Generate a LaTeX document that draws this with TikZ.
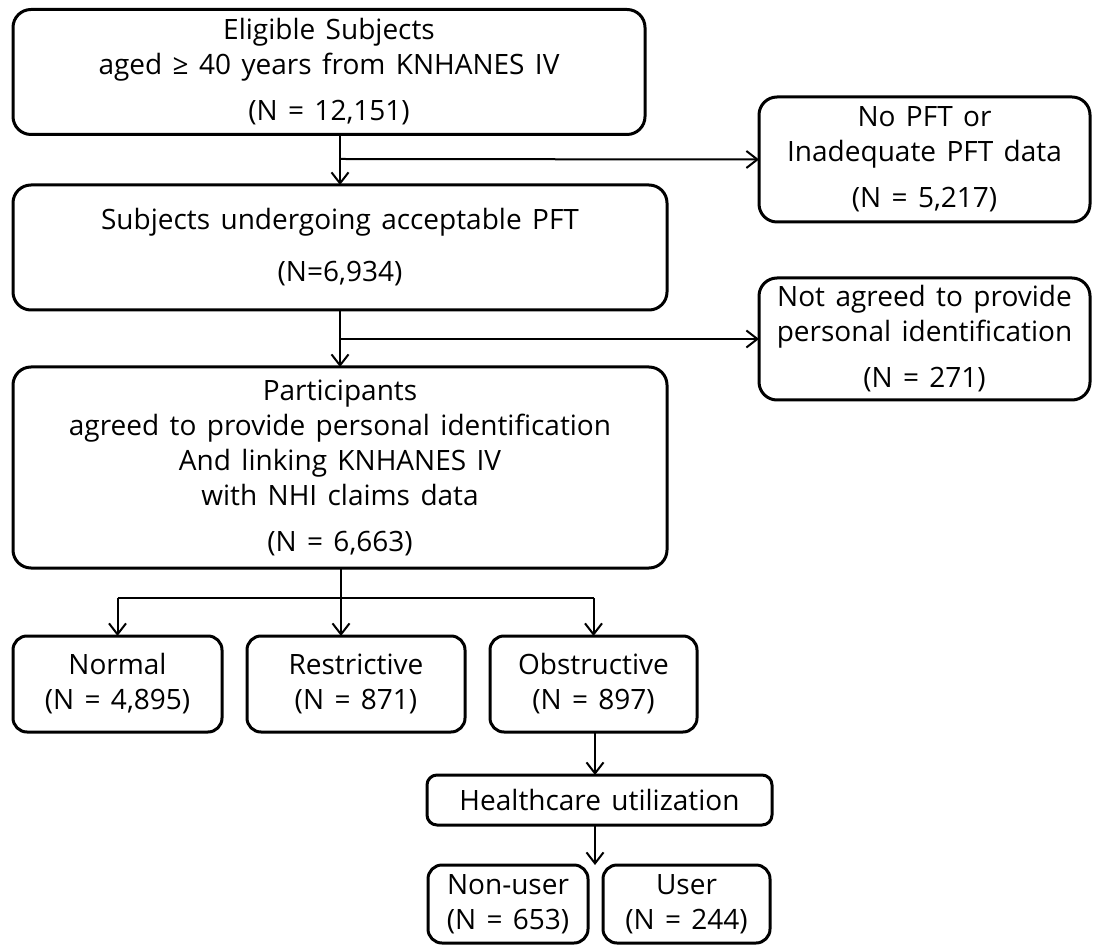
\documentclass[tikz,border=0pt]{standalone}
\usepackage{fontspec}
\setmainfont{Open Sans}
\usetikzlibrary{arrows.meta}
\newcommand\boxfont{\fontsize{14}{17.5}\selectfont\spaceskip=5.2pt plus 1pt minus 1pt\relax}
\begin{document}
\begin{tikzpicture}[x=0.5pt,y=-0.5pt,
  box/.style={draw=black, line width=1.5pt, rounded corners=9pt, inner sep=0pt, outer sep=0pt,
    align=center, font=\boxfont},
  sbox/.style={box, rounded corners=7pt},
  conn/.style={line width=1pt},
  arr/.style={conn, -{Straight Barb[length=5.5pt,width=8.5pt,line width=1pt]}}
]
\useasboundingbox (0,0) rectangle (1095,945);
% main boxes
\node[box, minimum width=316pt, minimum height=62.5pt] (b1) at (329,72)
  {Eligible Subjects\\aged ≥ 40 years from KNHANES IV\\[5.5pt](N = 12,151)};
\node[box, minimum width=327pt, minimum height=62.5pt] (b2) at (340,247.5)
  {Subjects undergoing acceptable PFT\\[8.5pt](N=6,934)};
\node[box, minimum width=327pt, minimum height=100.5pt] (b3) at (340,467.5)
  {Participants\\agreed to provide personal identification\\And linking KNHANES IV\\with NHI claims data\\[5.5pt](N = 6,663)};
% exclusion boxes
\node[box, minimum width=165.5pt, minimum height=62.5pt] (nopft) at (924.5,159.5)
  {No PFT or\\Inadequate PFT data\\[5.5pt](N = 5,217)};
\node[box, minimum width=165.5pt, minimum height=61pt] (notagr) at (924.5,339)
  {Not agreed to provide\\personal identification\\[5.5pt](N = 271)};
% categories
\node[sbox, minimum width=104.5pt, minimum height=48pt] (normal) at (117.5,684)
  {Normal\\(N = 4,895)};
\node[sbox, minimum width=109pt, minimum height=48pt] (restr) at (356,684)
  {Restrictive\\(N = 871)};
\node[sbox, minimum width=103.5pt, minimum height=48pt] (obstr) at (593.5,684)
  {Obstructive\\(N = 897)};
\node[sbox, rounded corners=5pt, minimum width=172.5pt, minimum height=25pt] (health) at (599.5,800)
  {Healthcare utilization};
\node[sbox, minimum width=80pt, minimum height=39pt] (nonuser) at (508,904)
  {Non-user\\(N = 653)};
\node[sbox, minimum width=83.5pt, minimum height=39pt] (user) at (686.5,904)
  {User\\(N = 244)};
% connectors
\coordinate (j1) at (340,159);
\coordinate (j2) at (340,339);
\coordinate (j3) at (341,598);
\coordinate (hgap) at (595,865);
\draw[arr] (b1.south -| b2.north) -- (b2.north);
\draw[arr] (j1) -- (nopft.west);
\draw[arr] (b2.south) -- (b3.north);
\draw[arr] (j2) -- (notagr.west);
\draw[arr] (b3.south -| j3) -- (j3 |- restr.north);
\draw[conn] (j3 -| normal.north) -- (j3 -| obstr.north);
\draw[arr] (j3 -| normal.north) -- (normal.north);
\draw[arr] (j3 -| obstr.north) -- (obstr.north);
\draw[arr] (obstr.south -| hgap) -- (health.north -| hgap);
\draw[arr] (health.south -| hgap) -- (hgap);
\end{tikzpicture}
\end{document}
